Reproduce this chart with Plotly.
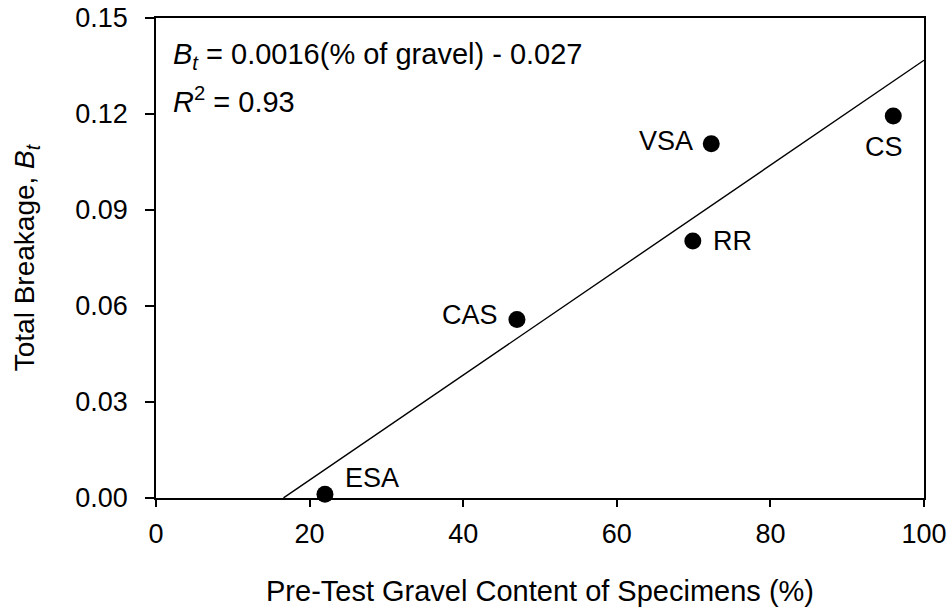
import plotly.graph_objects as go

names = ["ESA", "CAS", "RR", "VSA", "CS"]
gravel = [22.0, 47.0, 69.9, 72.3, 96.0]
breakage = [0.0012, 0.0558, 0.0803, 0.1107, 0.1194]
fit_slope = 0.00164
fit_intercept = -0.0272
fit_x = [16.6, 100.0]
fit_y = [fit_slope * v + fit_intercept for v in fit_x]

x_ticks = [0, 20, 40, 60, 80, 100]
y_ticks = [0.00, 0.03, 0.06, 0.09, 0.12, 0.15]

FONT = "Liberation Sans, Arial, sans-serif"
TXT = 27

fig = go.Figure()
fig.add_trace(go.Scatter(x=fit_x, y=fit_y, mode="lines",
                         line=dict(color="black", width=1.4), showlegend=False))
fig.add_trace(go.Scatter(x=gravel, y=breakage, mode="markers",
                         marker=dict(color="black", size=17), showlegend=False,
                         cliponaxis=False))

offsets = {
    "ESA": dict(xanchor="left", xshift=18, yshift=16),
    "CAS": dict(xanchor="right", xshift=-17, yshift=4),
    "RR": dict(xanchor="left", xshift=18, yshift=0),
    "VSA": dict(xanchor="right", xshift=-16, yshift=3),
    "CS": dict(xanchor="center", xshift=-9, yshift=-31),
}
for n, xv, yv in zip(names, gravel, breakage):
    o = offsets[n]
    fig.add_annotation(x=xv, y=yv, text=n, showarrow=False, xanchor=o["xanchor"],
                       yanchor="middle", xshift=o["xshift"], yshift=o["yshift"],
                       font=dict(family=FONT, size=TXT, color="black"))

fig.add_annotation(xref="paper", yref="paper", x=0.02, y=0.92,
                   text="<i>B<sub>t</sub></i> = 0.0016(% of gravel) - 0.027",
                   showarrow=False, xanchor="left", yanchor="middle",
                   font=dict(family=FONT, size=29, color="black"))
fig.add_annotation(xref="paper", yref="paper", x=0.02, y=0.83,
                   text="<i>R</i><sup>2</sup> = 0.93",
                   showarrow=False, xanchor="left", yanchor="middle",
                   font=dict(family=FONT, size=29, color="black"))

axis_common = dict(showline=True, linecolor="black", linewidth=1.6, mirror=True,
                   ticks="outside", tickwidth=1.6, tickcolor="black",
                   showgrid=False, zeroline=False, automargin=False,
                   tickfont=dict(family=FONT, size=TXT, color="black"))

fig.update_xaxes(range=[0, 100], tickvals=x_ticks, ticklen=7,
                 ticktext=[str(v) for v in x_ticks], ticklabelstandoff=4,
                 title=dict(text="Pre-Test Gravel Content of Specimens (%)",
                            font=dict(family=FONT, size=29, color="black"), standoff=32),
                 **axis_common)
fig.update_yaxes(range=[0, 0.15], tickvals=y_ticks, ticklen=9,
                 ticktext=[f"{v:.2f}" for v in y_ticks], ticklabelstandoff=12,
                 title=dict(text="Total Breakage, <i>B<sub>t</sub></i>",
                            font=dict(family=FONT, size=28, color="black"), standoff=32),
                 **axis_common)

fig.update_layout(width=951, height=613, plot_bgcolor="white", paper_bgcolor="white",
                  margin=dict(l=156, r=27, t=18, b=115), showlegend=False)

fig.write_html("out.html")
